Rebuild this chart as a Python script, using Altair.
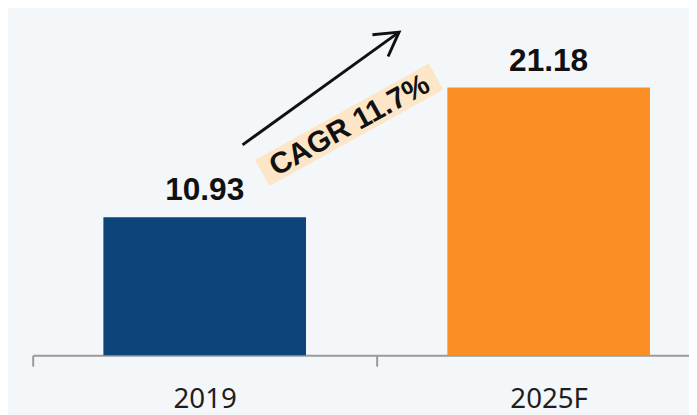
import altair as alt
import pandas as pd

# ---- data ----
categories = ["2019", "2025F"]
values = [10.93, 21.18]
value_labels = ["10.93", "21.18"]
bar_colors = ["#0d4479", "#fb8f26"]

# annotation, in category units (0 = centre of 2019, 1 = centre of 2025F) and value units
arrow_x = [0.11, 0.565]
arrow_y = [16.65, 25.57]
cagr_text = ["CAGR 11.7%"]
cagr_x = [0.42]
cagr_y = [18.24]

Y_MAX = 27.29
W, H = 664, 349
STEP = 348

bars_df = pd.DataFrame({"cat": categories, "value": values,
                        "label": value_labels, "color": bar_colors})
arrow_df = pd.DataFrame({"u": arrow_x, "v": arrow_y, "o": [0, 1]})
head_df = arrow_df.iloc[[1]]
cagr_df = pd.DataFrame({"u": cagr_x, "v": cagr_y, "t": cagr_text})

band = alt.Scale(range=[0, 2 * STEP], paddingInner=0, paddingOuter=0)
x_axis = alt.Axis(title=None, labelAngle=0, tickBand="extent",
                  domainColor="#9a9a9a", domainWidth=2,
                  tickColor="#9a9a9a", tickWidth=2, tickSize=11,
                  labelFont="Noto Sans", labelFontSize=28, labelColor="#1e1e1e",
                  labelPadding=20)
yscale = alt.Scale(domain=[0, Y_MAX], nice=False, zero=True)

bars = alt.Chart(bars_df).mark_bar(width=alt.RelativeBandSize(0.589)).encode(
    x=alt.X("cat:N", sort=categories, scale=band, axis=x_axis),
    y=alt.Y("value:Q", scale=yscale, axis=None),
    color=alt.Color("color:N", scale=None),
)
labels = alt.Chart(bars_df).mark_text(
    font="Liberation Sans", fontWeight="bold", fontSize=32,
    baseline="alphabetic", dy=-17, color="#111111"
).encode(
    x=alt.X("cat:N", sort=categories),
    y=alt.Y("value:Q", axis=None),
    text="label:N",
)

ux = alt.Scale(domain=[-0.5, (W - STEP / 2) / STEP], nice=False, zero=False)

box = alt.Chart(cagr_df).mark_point(
    shape="M -1 -0.15 L 1 -0.15 L 1 0.15 L -1 0.15 Z", size=40400,
    angle=331, filled=True, color="#fde6c8", opacity=1, strokeWidth=0
).encode(x=alt.X("u:Q", scale=ux, axis=None), y=alt.Y("v:Q", axis=None))

cagr = alt.Chart(cagr_df).mark_text(
    font="Liberation Sans", fontWeight="bold", fontSize=30, angle=331,
    align="center", baseline="middle", dy=1, color="#111111"
).encode(x=alt.X("u:Q", scale=ux, axis=None), y=alt.Y("v:Q", axis=None), text="t:N")

arrow_line = alt.Chart(arrow_df).mark_line(color="#111111", strokeWidth=3).encode(
    x=alt.X("u:Q", scale=ux, axis=None), y=alt.Y("v:Q", axis=None), order="o:O")

head = alt.Chart(head_df).mark_point(
    shape="M -1 -0.58 L 0 0 L -1 0.58", size=2190, angle=324.3,
    filled=False, stroke="#111111", strokeWidth=3, opacity=1
).encode(x=alt.X("u:Q", scale=ux, axis=None), y=alt.Y("v:Q", axis=None))

chart = alt.layer(
    alt.layer(bars, labels),
    alt.layer(box, cagr, arrow_line, head),
).resolve_scale(x="independent").properties(
    width=W, height=H,
    autosize=alt.AutoSizeParams(type="none"),
    padding={"left": 25, "top": 0, "right": 0, "bottom": 58},
    background="#f4f7f9",
).configure_view(stroke=None)

chart.save("out.html", embed_options={"renderer": "svg", "actions": False})
